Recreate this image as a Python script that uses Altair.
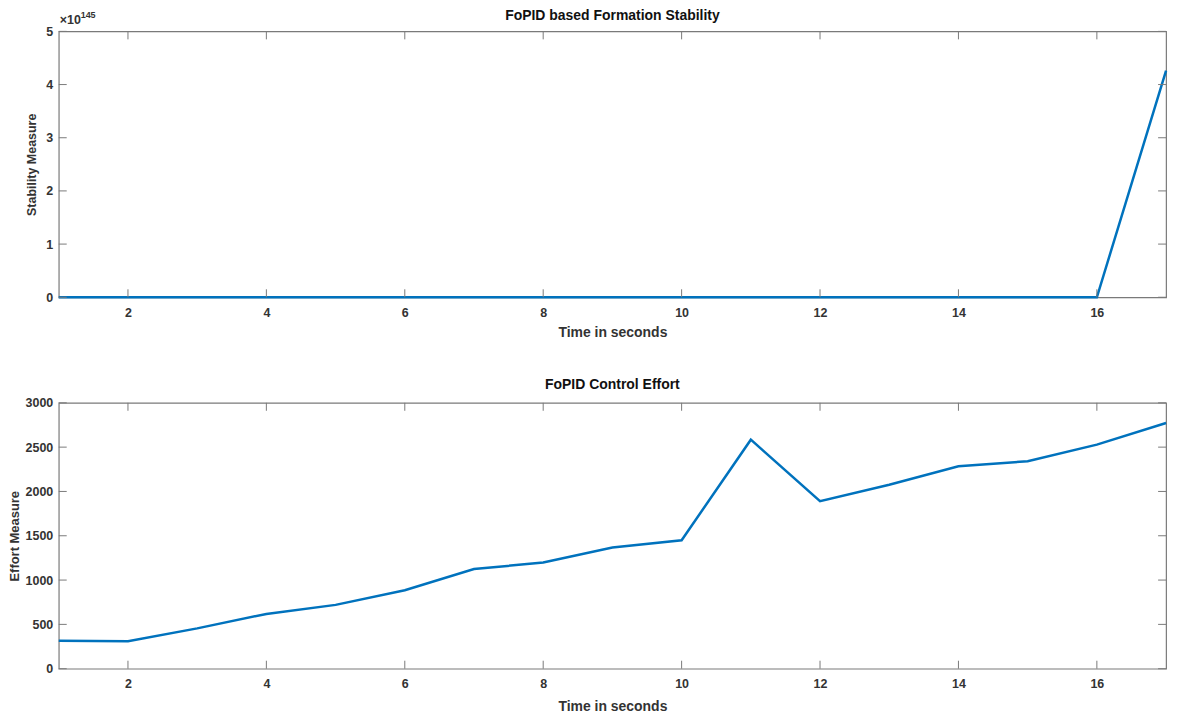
import altair as alt
import pandas as pd

# ---- data ----
time_s = list(range(1, 18))
stability = [0, 0, 0, 0, 0, 0, 0, 0, 0, 0, 0, 0, 0, 0, 0, 0, 4.26e145]
effort = [315, 310, 455, 618, 720, 885, 1124, 1198, 1367, 1449, 2584, 1891,
          2075, 2285, 2341, 2528, 2772]
x_ticks = [2, 4, 6, 8, 10, 12, 14, 16]
stab_ticks = [0, 1, 2, 3, 4, 5]
effort_ticks = [0, 500, 1000, 1500, 2000, 2500, 3000]

W, H = 1112, 267
LINE = "#0072BD"
AX = "#7a7a7a"
TXT = "#333333"
FONT = "Liberation Sans"

df_top = pd.DataFrame({"t": time_s, "v": stability})
df_bot = pd.DataFrame({"t": time_s, "v": effort})
df_xt = pd.DataFrame({"t": x_ticks})
df_st = pd.DataFrame({"y": stab_ticks})
df_et = pd.DataFrame({"y": effort_ticks})

xscale = alt.Scale(domain=[1, 17], nice=False, zero=False)


def xaxis(tpad):
    return alt.Axis(values=x_ticks, format="d", title="Time in seconds",
                    grid=False, ticks=False, domain=False, labelPadding=9,
                    labelFont=FONT, labelFontWeight="bold", labelFontSize=12.5,
                    labelColor=TXT, titleFont=FONT, titleFontWeight="bold",
                    titleFontSize=14, titleColor=TXT, titlePadding=tpad,
                    labelFlush=False)


def yaxis(vals, title, tpad, tsize):
    return alt.Axis(values=vals, format="d", title=title, grid=False,
                    ticks=False, domain=False, labelPadding=6, labelFont=FONT,
                    labelFontWeight="bold", labelFontSize=12.5, labelColor=TXT,
                    titleFont=FONT, titleFontWeight="bold", titleFontSize=tsize,
                    titleColor=TXT, titlePadding=tpad, labelFlush=False)


def inner_ticks(yscale, df_y):
    xt_b = alt.Chart(df_xt).mark_rule(color=AX, strokeWidth=1).encode(
        x=alt.X("t:Q", scale=xscale), y=alt.value(H), y2=alt.value(H - 8))
    xt_t = alt.Chart(df_xt).mark_rule(color=AX, strokeWidth=1).encode(
        x=alt.X("t:Q", scale=xscale), y=alt.value(0), y2=alt.value(8))
    yt_l = alt.Chart(df_y).mark_rule(color=AX, strokeWidth=1).encode(
        y=alt.Y("y:Q", scale=yscale), x=alt.value(0), x2=alt.value(8))
    yt_r = alt.Chart(df_y).mark_rule(color=AX, strokeWidth=1).encode(
        y=alt.Y("y:Q", scale=yscale), x=alt.value(W), x2=alt.value(W - 8))
    return [xt_b, xt_t, yt_l, yt_r]


# ---- top panel ----
ys_top = alt.Scale(domain=[0, 5], nice=False)
line_top = alt.Chart(df_top).transform_calculate(
    vs="datum.v / 1e145"
).mark_line(color=LINE, strokeWidth=2.5).encode(
    x=alt.X("t:Q", scale=xscale, axis=xaxis(7)),
    y=alt.Y("vs:Q", scale=ys_top,
            axis=yaxis(stab_ticks, "Stability Measure", 7, 12.5)),
)
exp_base = alt.Chart(df_st.head(1)).mark_text(
    text="×10", font=FONT, fontSize=12.5, fontWeight="bold", color=TXT,
    align="left", baseline="alphabetic").encode(x=alt.value(1), y=alt.value(-7))
exp_pow = alt.Chart(df_st.head(1)).mark_text(
    text="145", font=FONT, fontSize=9, fontWeight="bold", color=TXT,
    align="left", baseline="alphabetic").encode(x=alt.value(22), y=alt.value(-13))
top = alt.layer(line_top, *inner_ticks(ys_top, df_st), exp_base, exp_pow).properties(
    width=W, height=H,
    title=alt.TitleParams("FoPID based Formation Stability", font=FONT,
                          fontSize=14, fontWeight="bold", color="#111",
                          offset=-12))

# ---- bottom panel ----
ys_bot = alt.Scale(domain=[0, 3000], nice=False)
line_bot = alt.Chart(df_bot).mark_line(color=LINE, strokeWidth=2.5).encode(
    x=alt.X("t:Q", scale=xscale, axis=xaxis(9)),
    y=alt.Y("v:Q", scale=ys_bot,
            axis=yaxis(effort_ticks, "Effort Measure", 4, 13)),
)
bot = alt.layer(line_bot, *inner_ticks(ys_bot, df_et)).properties(
    width=W, height=H,
    title=alt.TitleParams("FoPID Control Effort", font=FONT, fontSize=14,
                          fontWeight="bold", color="#111", offset=5))

chart = alt.vconcat(top, bot, spacing=36).properties(
    padding={"left": 7, "right": 10, "top": 7, "bottom": 2},
    background="white",
).configure_view(stroke=AX, strokeWidth=1.2)

chart.save("out.html", embed_options={"renderer": "svg", "actions": False})
